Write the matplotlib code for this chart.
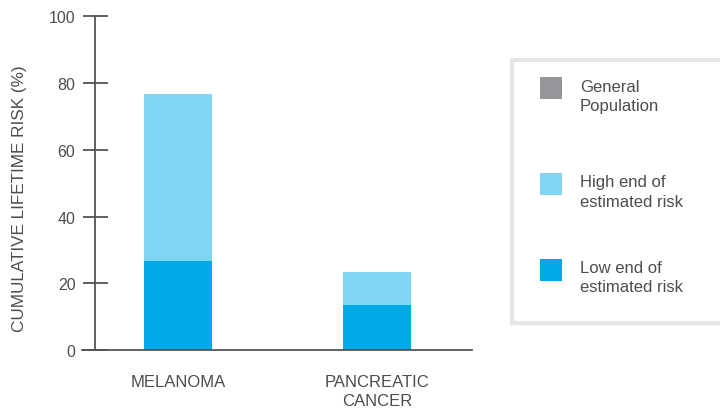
import matplotlib.pyplot as plt
from matplotlib.patches import Rectangle

plt.rcParams['font.family'] = ['Liberation Sans', 'DejaVu Sans']

# data
cancers = ["MELANOMA", "PANCREATIC\nCANCER"]
low_end = [26.7, 13.5]
high_end = [76.7, 23.4]
legend_labels = ["General\nPopulation", "High end of\nestimated risk", "Low end of\nestimated risk"]

GRAY = "#939598"
LIGHT = "#80d5f3"
BLUE = "#00aae6"
TXT = "#4d4d4d"
AX = "#555555"

W, H = 720, 410
fig = plt.figure(figsize=(7.2, 4.1), dpi=100)

# axes box in pixels: left 82, right 472, top 17.3, bottom 351
ax = fig.add_axes([82 / W, 1 - 351 / H, 390 / W, (351 - 17.3) / H])

x = list(range(len(cancers)))
ax.bar(x, low_end, width=0.342, color=BLUE, zorder=2)
ax.bar(x, [h - l for h, l in zip(high_end, low_end)], bottom=low_end,
       width=0.342, color=LIGHT, zorder=2)

ax.set_xlim(-0.482, 1.477)
ax.set_ylim(0, 100)
ax.set_yticks([0, 20, 40, 60, 80, 100])
ax.set_xticks(x)
ax.set_xticklabels(cancers, fontsize=12, color=TXT, linespacing=1.35)

for s in ["top", "right"]:
    ax.spines[s].set_visible(False)
ax.spines["left"].set_position(("data", -0.417))
for s in ["left", "bottom"]:
    ax.spines[s].set_color(AX)
    ax.spines[s].set_linewidth(1.3)
    ax.spines[s].set_zorder(3)

ax.tick_params(axis="y", direction="inout", length=18, width=1.3, color=AX,
               labelsize=11.5, labelcolor=TXT, pad=5)
ax.tick_params(axis="x", length=0, pad=17)

fig.text(20 / W, 1 - 199 / H, "CUMULATIVE LIFETIME RISK (%)", rotation=90,
         ha="center", va="center", fontsize=12.3, color=TXT)

# legend box
fig.add_artist(Rectangle((512 / W, 1 - 324 / H), 215 / W, 263 / H,
                         transform=fig.transFigure, facecolor="white",
                         edgecolor="#e6e6e6", linewidth=3))
sq_tops = [78, 174, 260]
txt_centers = [97, 192.5, 278]
for lab, col, top, tc in zip(legend_labels, [GRAY, LIGHT, BLUE], sq_tops, txt_centers):
    fig.add_artist(Rectangle((540 / W, 1 - (top + 22) / H), 22 / W, 22 / H,
                             transform=fig.transFigure, facecolor=col,
                             edgecolor="none"))
    fig.text(580 / W, 1 - tc / H, lab, ha="left", va="center",
             fontsize=12, color=TXT, linespacing=1.35)

fig.savefig("out.png", dpi=100)
